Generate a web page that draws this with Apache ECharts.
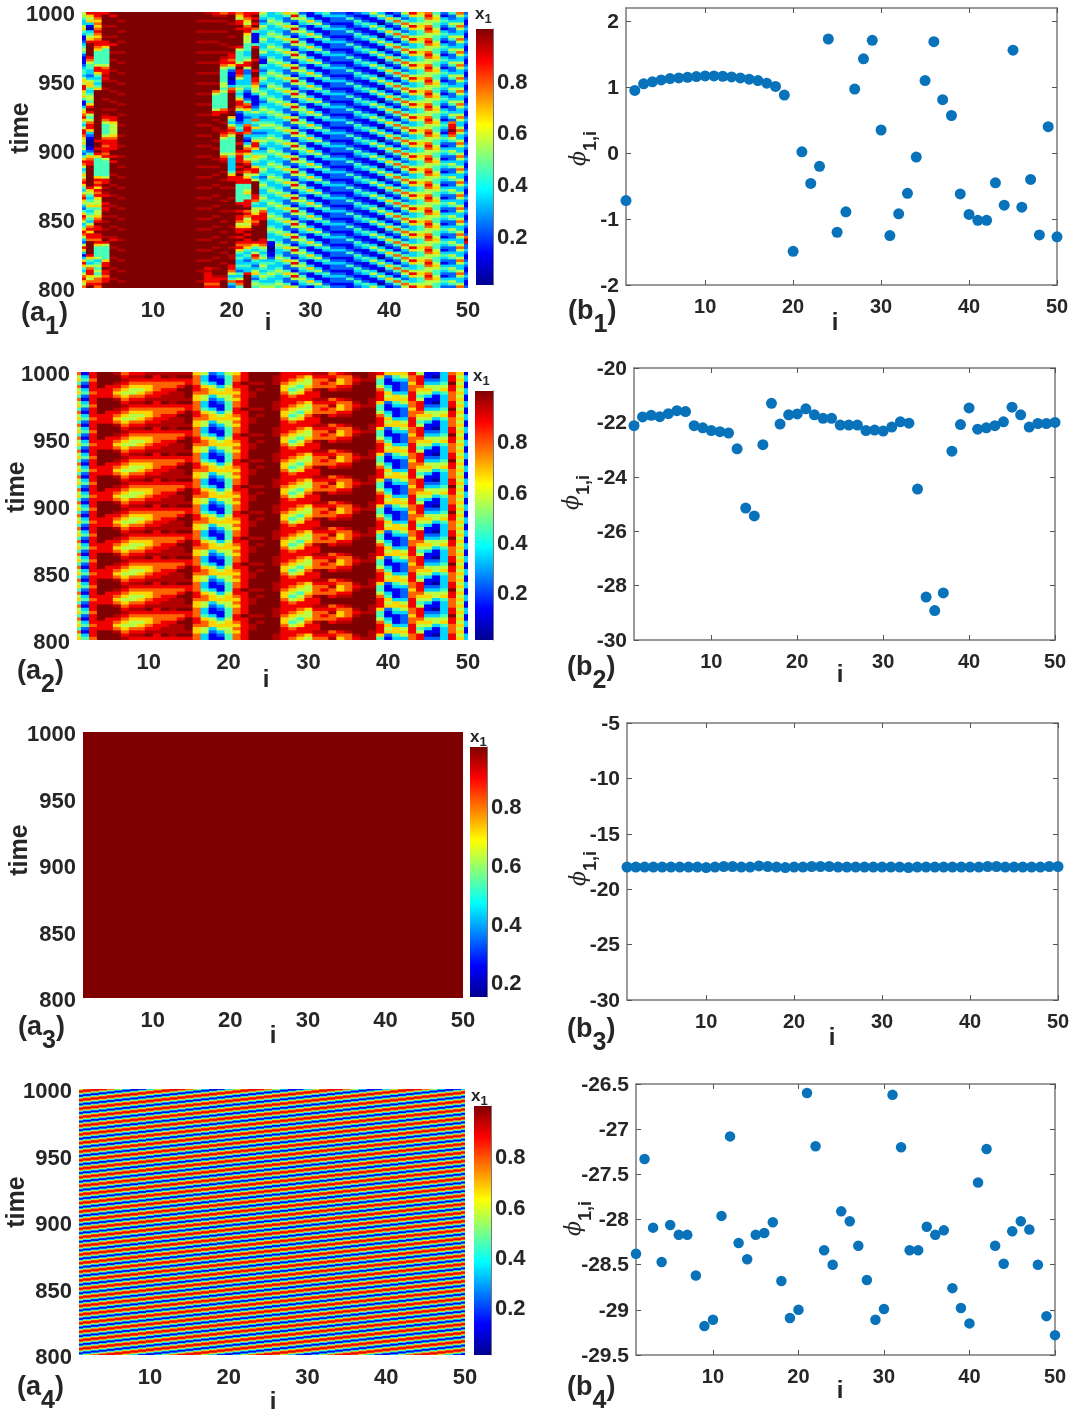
<!DOCTYPE html>
<html><head><meta charset="utf-8">
<style>html,body{margin:0;padding:0;background:#fff}#c{width:1077px;height:1414px}</style>
<script src="https://cdn.jsdelivr.net/npm/echarts@6/dist/echarts.min.js"></script>
</head><body><div id="c"></div>
<script>
// Each heat map: 50 column strings, one digit per time row from the top (0..9 = x/9, a = 0.95).
// A column shorter than the row count holds one period of that column.
const a1Columns = [
"5543356431 1234542111 2344356588 6564113567 8643588765 6453246875 3465786435 7865324687 5346875325 8631368643 578657",
"8656310345 6899999875 4433235664 3455468985 4578863210 0012467889 9999999865 4345643454 3578688799 9998643578 865789",
"8876767876 7887644444 5886434346 9999999999 9999999998 9989864444 4446878687 8655645567 8988988786 4444534545 457787",
"89999a999a 9886444444 5788a8a99a 999a999a9a 8754444578 8788785444 4445889a9a 8998a8a9a9 a99a99a985 4444468898 878899",
"98999a999a 99899a99a9 99a999a999 a999a99a99 8865555678 8889989899 99a999a999 a999a999a9 99a999a899 a999a999a9 99a999",
"999a","9","9","9","9","9","9","9","9","9","999a",
"a99a999a99 9a999a999a 999a999a99 9a999a999a 999a999a99 9a999a999a 999a999a99 9a999a999a 999a999a99 9a999a998a 888878",
"8a9a999a99 9a999a999a 999a999a99 7544444588 9a99aa999a 99a999a99a 99a999a999 a999a999a9 99a999a999 a999a999a9 9a8878",
"7a9a999a99 99a99a9a88 7544444554 5444444789 99a99a8754 4444578a99 9a99a99a99 99a999a999 a999a999a9 99a999a999 9a8999",
"8999a9999a 999a9a8878 6421101137 8999999a99 6435787544 4444543333 3468899a99 9a9999a999 99a999a999 a99aa99887 534732",
"7658898999 9998544445 8988753345 4346887521 1123438999 8998788898 9898884444 4448998988 7568898987 8643433432 435874",
"8876578865 5544433458 8522333343 2112478643 2337887321 3578645789 8756884456 4488897875 6568989887 6434323433 899999",
"8989897411 1148999989 9989988765 5311112353 3743632346 8863465436 8853599999 8874355688 7899999986 4358743235 632454",
"5432354334 5433453211 4323454323 4543234543 2345432345 4323454334 5432345433 4543357888 9999999887 5434534543 454345",
"3345433454 3345433454 3345433454 3345433454 3345433454 3345433454 3345433454 3345433454 3345433411 0011234334 543345",
"43345","64224","58521","24543","11364","31135","43112","23221","23221","12421","21243","31124","53113","35310",
"13642","21474","53247","86335","65445","78755","45654","21343",
"4223542235 4223542235 4223542235 4223542235 4278898754 2235422354 2235422354 2235422354 2235422354 2235422354 223542",
"75335",
"2321123211 2321123211 2321123211 2321123211 2321123211 2321123211 2321123211 2321123211 2321127982 2321123211 232112"
];
const a2Columns = [
"75647564","13421342","88788878","99999888","99998888","a99a8767","78a87656","8a876557","8a876567","a9876678",
"a8877788","a987788a","aa8778aa","a98789aa","a9889999","67778876","53346775","21135663","32113565","54445665",
"67788767","88898888","999a99aa","999a9a99","99999999","9aaa9999","88876678","88765457","87654568","86556788",
"a8777a88","a8787999","78a77899","87668a99","a7778a99","9a8a9999","99a99999","aaa99999","86445788","62113465",
"64311136","65322235","87767788","58887654","11235653","10235531","33345643","78898877","65656565","13311331"
];
const a3Columns = Array.from({length:50},()=>"9");
const a4Columns = [
"5788753113","7887531135","8875311357","8753113578","7531135788","5311357887","3113578875","1135788753","1357887531","3578875311",
"5788753113","7887531135","8875311357","8753113578","7531135788","5311357887","3113578875","1135788753","1357887531","3578875311",
"5788753113","7887531135","8875311357","8753113578","7531135788","5311357887","3113578875","1135788753","1357887531","3578875311",
"5788753113","7887531135","8875311357","8753113578","7531135788","5311357887","3113578875","1135788753","1357887531","3578875311",
"5788753113","7887531135","8875311357","8753113578","7531135788","5311357887","3113578875","1135788753","1357887531","3578875311"
];
const heatRows = [106, 83, 1, 310];

const b1Values = [-0.72,0.95,1.05,1.08,1.11,1.13,1.14,1.15,1.16,1.17,1.17,1.165,1.155,1.14,1.12,1.10,1.06,1.01,0.88,-1.49,0.02,-0.46,-0.2,1.73,-1.2,-0.89,0.97,1.43,1.71,0.35,-1.25,-0.92,-0.61,-0.06,1.10,1.69,0.81,0.57,-0.62,-0.93,-1.02,-1.02,-0.45,-0.79,1.56,-0.82,-0.40,-1.24,0.40,-1.27];
const b2Values = [-22.12,-21.8,-21.74,-21.79,-21.68,-21.57,-21.6,-22.12,-22.2,-22.3,-22.34,-22.39,-22.97,-25.15,-25.44,-22.82,-21.3,-22.06,-21.72,-21.69,-21.5,-21.72,-21.85,-21.85,-22.1,-22.1,-22.1,-22.3,-22.28,-22.32,-22.17,-21.98,-22.03,-24.45,-28.42,-28.92,-28.27,-23.06,-22.08,-21.47,-22.25,-22.2,-22.12,-21.98,-21.44,-21.72,-22.17,-22.04,-22.04,-22.0];
const b3Values = [-18,-18,-18,-18,-18,-18,-18,-18,-18,-18.05,-18,-17.95,-17.95,-18,-18,-17.9,-17.95,-18,-18.05,-18,-18,-17.95,-17.95,-17.95,-18,-18,-18,-18,-18,-18,-18,-18,-18.05,-18,-18,-18,-18,-18,-18,-18,-18,-17.95,-17.95,-18,-18,-18,-18,-18,-17.95,-17.95];
const b4Values = [-28.38,-27.33,-28.09,-28.47,-28.06,-28.17,-28.17,-28.62,-29.18,-29.11,-27.96,-27.08,-28.26,-28.44,-28.17,-28.15,-28.03,-28.68,-29.09,-29.0,-26.6,-27.19,-28.34,-28.5,-27.91,-28.02,-28.29,-28.67,-29.11,-28.99,-26.62,-27.2,-28.34,-28.34,-28.08,-28.17,-28.12,-28.76,-28.98,-29.15,-27.59,-27.22,-28.29,-28.49,-28.13,-28.02,-28.11,-28.5,-29.07,-29.28];

const iTicks = [10,20,30,40,50];
const timeTicks = [800,850,900,950,1000];
const barTicks = [0.2,0.4,0.6,0.8];
const b1Ticks = [-2,-1,0,1,2];
const b2Ticks = [-30,-28,-26,-24,-22,-20];
const b3Ticks = [-30,-25,-20,-15,-10,-5];
const b4Ticks = [-29.5,-29,-28.5,-28,-27.5,-27,-26.5];
const barRanges = [[0.01,1],[0.01,1],[0.15,1],[0.01,1]];
const bRanges = [[-2,2.2],[-30,-20],[-30,-5],[-29.5,-26.5]];

// layout
const heatBoxes = [{l:82,t:12,w:386,h:276},{l:77,t:372,w:391,h:268},{l:83,t:732,w:380,h:266},{l:79,t:1089,w:386,h:266}];
const barBoxes = [{l:476,t:29,w:17,h:256},{l:475,t:391,w:18,h:249},{l:470,t:747,w:17,h:250},{l:474,t:1106,w:17,h:249}];
const scatterBoxes = [{l:626,t:8,w:431,h:277},{l:634,t:368,w:421,h:272},{l:627,t:723,w:431,h:277},{l:636,t:1084,w:419,h:271}];
const dark = '#262626', font = '"Liberation Sans",Arial,sans-serif';

const stops = [[0,[0,0,143]],[0.125,[0,0,255]],[0.375,[0,255,255]],[0.625,[255,255,0]],[0.875,[255,0,0]],[1,[127,0,0]]];
function jet(v){
  for(let k=1;k<stops.length;k++){
    if(v<=stops[k][0]){
      const a=stops[k-1],b=stops[k],f=(v-a[0])/(b[0]-a[0]);
      return 'rgb('+a[1].map((x,n)=>Math.round(x+(b[1][n]-x)*f)).join(',')+')';
    }
  }
  return 'rgb(127,0,0)';
}
const level = ch => ch==='a' ? 0.95 : Math.max(0.01, parseInt(ch,10)/9);

function heatData(columns, rows){
  const out=[], step=200/rows;
  columns.forEach((raw,c)=>{
    const s=raw.replace(/ /g,'');
    for(let r=0;r<rows;r++) out.push([c+1, 1000-r*step, 1000-(r+1)*step, level(s[r%s.length])]);
  });
  return out;
}
function renderCell(params, api){
  const cs=params.coordSys;
  const p0=api.coord([api.value(0)-0.5, api.value(1)]);
  const p1=api.coord([api.value(0)+0.5, api.value(2)]);
  // each cell runs 1px under its right and lower neighbours so no seams show
  const x0=Math.max(cs.x,p0[0]), x1=Math.min(cs.x+cs.width,p1[0]+1);
  const y0=Math.max(cs.y,p0[1]), y1=Math.min(cs.y+cs.height,p1[1]+1);
  return {type:'rect',silent:true,shape:{x:x0,y:y0,width:x1-x0,height:y1-y0},style:{fill:jet(api.value(3))}};
}
function renderBar(params, api){
  const cs=params.coordSys;
  const grad=new echarts.graphic.LinearGradient(0,1,0,0,
    stops.map(s=>({offset:s[0],color:'rgb('+s[1].join(',')+')'})));
  return {type:'rect',silent:true,shape:{x:cs.x,y:cs.y,width:cs.width,height:cs.height},style:{fill:grad}};
}

const grid=[],xAxis=[],yAxis=[],series=[],graphic=[];
const box=b=>({left:b.l,top:b.t,width:b.w,height:b.h,containLabel:false});
const hidden={show:false};
function label(size,extra){return Object.assign({fontFamily:font,fontWeight:'bold',fontSize:size,color:dark},extra||{});}

[a1Columns,a2Columns,a3Columns,a4Columns].forEach((cols,n)=>{
  let g=grid.length; grid.push(box(heatBoxes[n]));
  xAxis.push({gridIndex:g,type:'value',min:1,max:50,splitLine:hidden,axisLine:hidden,
    axisTick:hidden,axisLabel:label(22,{customValues:iTicks,margin:12})});
  yAxis.push({gridIndex:g,type:'value',min:800,max:1000,interval:50,splitLine:hidden,axisLine:hidden,
    axisTick:hidden,axisLabel:label(22,{customValues:timeTicks,margin:7,verticalAlign:'top',lineHeight:6,formatter:v=>String(v)})});
  series.push({type:'custom',xAxisIndex:xAxis.length-1,yAxisIndex:yAxis.length-1,animation:false,silent:true,
    progressive:0,encode:{x:0,y:[1,2]},data:heatData(cols,heatRows[n]),renderItem:renderCell});
  // colour bar
  g=grid.length; grid.push(box(barBoxes[n]));
  xAxis.push({gridIndex:g,type:'value',min:0,max:1,show:false});
  yAxis.push({gridIndex:g,type:'value',position:'right',min:barRanges[n][0],max:barRanges[n][1],splitLine:hidden,
    axisLine:{show:true,onZero:false,lineStyle:{color:'#777',width:1}},
    axisTick:{show:true,inside:true,length:3,lineStyle:{color:'#333'},customValues:barTicks},
    axisLabel:label(22,{customValues:barTicks,margin:4,verticalAlign:'top',lineHeight:4,formatter:v=>v.toFixed(1)})});
  series.push({type:'custom',xAxisIndex:xAxis.length-1,yAxisIndex:yAxis.length-1,animation:false,silent:true,
    encode:{x:0,y:1},data:[[0.5,barRanges[n][0]]],renderItem:renderBar});
});

[b1Values,b2Values,b3Values,b4Values].forEach((vals,n)=>{
  const yt=[b1Ticks,b2Ticks,b3Ticks,b4Ticks][n], r=bRanges[n], g=grid.length;
  grid.push(box(scatterBoxes[n]));
  const line={show:true,onZero:false,lineStyle:{color:'#7a7a7a',width:1.5}};
  const tick=v=>({show:true,inside:true,length:5,lineStyle:{color:'#555',width:1},customValues:v});
  xAxis.push({gridIndex:g,type:'value',min:1,max:50,splitLine:hidden,axisLine:line,axisTick:tick(iTicks),
    axisLabel:label(20,{customValues:iTicks,margin:12})});
  const xi=xAxis.length-1;
  xAxis.push({gridIndex:g,type:'value',position:'top',min:1,max:50,splitLine:hidden,axisLine:line,axisTick:tick(iTicks),axisLabel:hidden});
  yAxis.push({gridIndex:g,type:'value',min:r[0],max:r[1],splitLine:hidden,axisLine:line,axisTick:tick(yt),
    axisLabel:label(21,{customValues:yt,margin:7,verticalAlign:'top',lineHeight:2})});
  const yi=yAxis.length-1;
  yAxis.push({gridIndex:g,type:'value',position:'right',min:r[0],max:r[1],splitLine:hidden,axisLine:line,axisTick:tick(yt),axisLabel:hidden});
  series.push({type:'scatter',xAxisIndex:xi,yAxisIndex:yi,clip:false,animation:false,symbolSize:n===3?10.5:11,
    itemStyle:{color:'#0872BA',opacity:1},data:vals.map((v,k)=>[k+1,v])});
});

function txt(x,y,text,size,rot,style){
  graphic.push({type:'text',x:x,y:y,rotation:rot||0,silent:true,
    style:Object.assign({text:text,fontFamily:font,fontWeight:'bold',fontSize:size,fill:dark,align:'center',verticalAlign:'middle'},style||{})});
}
const panelRich={m:{fontFamily:font,fontWeight:'bold',fontSize:27,fill:dark,lineHeight:28,verticalAlign:'top'},
                 s:{fontFamily:font,fontWeight:'bold',fontSize:25,fill:dark,lineHeight:40,verticalAlign:'bottom'}};
[[21,300,'a',1],[17,658,'a',2],[18,1014,'a',3],[17,1374,'a',4],[568,298,'b',1],[567,654,'b',2],[567,1016,'b',3],[567,1374,'b',4]].forEach(p=>{
  graphic.push({type:'text',x:p[0],y:p[1],silent:true,style:{text:'{m|('+p[2]+'}{s|'+p[3]+'}{m|)}',rich:panelRich,align:'left',verticalAlign:'top'}});
});
const xRich={m:{fontFamily:font,fontWeight:'bold',fontSize:17,fill:dark,lineHeight:16,verticalAlign:'top'},
             s:{fontFamily:font,fontWeight:'bold',fontSize:13,fill:dark,lineHeight:20,verticalAlign:'bottom'}};
[[475,6],[473,368],[470,729],[471,1088]].forEach(p=>{
  graphic.push({type:'text',x:p[0],y:p[1],silent:true,style:{text:'{m|x}{s|1}',rich:xRich,align:'left',verticalAlign:'top'}});
});
[[21,128],[17,487],[20,850],[17,1202]].forEach(p=>txt(p[0],p[1],'time',25,Math.PI/2));
[[268,323],[266,680],[273,1036],[273,1402],[835,323],[840,675],[832,1038],[840,1391]].forEach(p=>txt(p[0],p[1],'i',24));
const phiRich={m:{fontFamily:'"DejaVu Serif",serif',fontStyle:'italic',fontSize:22,fill:dark,lineHeight:22,verticalAlign:'top'},
               s:{fontFamily:font,fontWeight:'bold',fontSize:18,fill:dark,lineHeight:32,verticalAlign:'bottom'}};
[[568,166],[561,510],[568,886],[563,1236]].forEach(p=>{
  graphic.push({type:'text',x:p[0],y:p[1],rotation:Math.PI/2,silent:true,style:{text:'{m|ϕ}{s|1,i}',rich:phiRich,align:'left',verticalAlign:'top'}});
});

const chart=echarts.init(document.getElementById('c'),null,{renderer:'canvas',width:1077,height:1414});
chart.setOption({animation:false,backgroundColor:'#fff',tooltip:{show:false},grid,xAxis,yAxis,series,graphic});
</script></body></html>
